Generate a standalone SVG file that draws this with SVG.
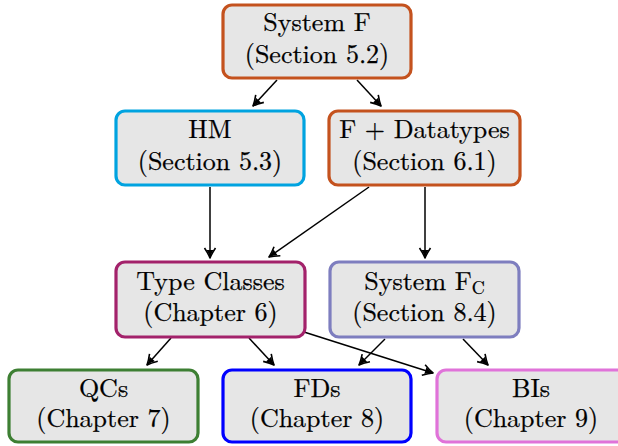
<svg xmlns="http://www.w3.org/2000/svg" width="618" height="446" viewBox="0 0 618 446">
<style>
.box{fill:#e6e6e6;stroke-width:3.2}
.t{font-size:26px;fill:#000;stroke:#000;stroke-width:0.25;text-anchor:middle}
.sub{font-size:18px}
.c line{stroke:#000;stroke-width:1.5;marker-end:url(#ah)}
</style>
<defs>
<marker id="ah" markerUnits="userSpaceOnUse" markerWidth="16" markerHeight="16" viewBox="-12 -8 16 16" refX="1" refY="0" orient="auto">
<path d="M-9,-5.5 Q-3,-1.5 1,0 Q-3,1.5 -9,5.5" fill="none" stroke="#000" stroke-width="1.6" stroke-linejoin="round"/>
<path d="M-7,-3.5 Q-3,-1 1,0 Q-3,1 -7,3.5 Z" fill="#000"/>
</marker>
</defs>
<rect width="618" height="446" fill="#fff"/>
<g class="c" id="connectors">
<line x1="277" y1="80" x2="253" y2="106"/>
<line x1="357" y1="80" x2="381" y2="106"/>
<line x1="210" y1="187" x2="210" y2="258"/>
<line x1="369" y1="187" x2="269" y2="257"/>
<line x1="425" y1="187" x2="425" y2="258"/>
<line x1="171" y1="338" x2="147" y2="365"/>
<line x1="249" y1="338" x2="274" y2="365"/>
<line x1="304" y1="332" x2="433" y2="373"/>
<line x1="385" y1="339" x2="359" y2="365"/>
<line x1="463" y1="339" x2="488" y2="365"/>
</g>
<g font-family="Latin Modern Roman, Liberation Serif, serif">
<g id="systemF">
<rect class="box" x="223" y="5" width="188" height="73" rx="9" stroke="#c4521e"/>
<text class="t" x="317" y="31">System F</text>
<text class="t" x="317" y="63">(Section 5.2)</text>
</g>
<g id="hm">
<rect class="box" x="116" y="111" width="188" height="74" rx="9" stroke="#00a3e0"/>
<text class="t" x="210" y="138">HM</text>
<text class="t" x="210" y="170">(Section 5.3)</text>
</g>
<g id="fdatatypes">
<rect class="box" x="329" y="111" width="191" height="74" rx="9" stroke="#c4521e"/>
<text class="t" x="424.5" y="138">F + Datatypes</text>
<text class="t" x="424.5" y="170">(Section 6.1)</text>
</g>
<g id="typeclasses">
<rect class="box" x="116" y="262" width="189" height="75" rx="9" stroke="#a3226b"/>
<text class="t" x="210.5" y="290">Type Classes</text>
<text class="t" x="210.5" y="321">(Chapter 6)</text>
</g>
<g id="systemFC">
<rect class="box" x="330" y="262" width="189" height="75" rx="9" stroke="#7e7ebf"/>
<text class="t" x="424.5" y="290">System F<tspan class="sub" dy="4">C</tspan></text>
<text class="t" x="424.5" y="321">(Section 8.4)</text>
</g>
<g id="qcs">
<rect class="box" x="9" y="370" width="189" height="72" rx="9" stroke="#3d7f33"/>
<text class="t" x="103.5" y="397">QCs</text>
<text class="t" x="103.5" y="427">(Chapter 7)</text>
</g>
<g id="fds">
<rect class="box" x="223" y="370" width="188" height="72" rx="9" stroke="#0000ff"/>
<text class="t" x="317" y="397">FDs</text>
<text class="t" x="317" y="427">(Chapter 8)</text>
</g>
<g id="bis">
<rect class="box" x="437" y="370" width="190" height="72" rx="9" stroke="#e073d9"/>
<text class="t" x="531" y="397">BIs</text>
<text class="t" x="531" y="427">(Chapter 9)</text>
</g>
</g>
</svg>
